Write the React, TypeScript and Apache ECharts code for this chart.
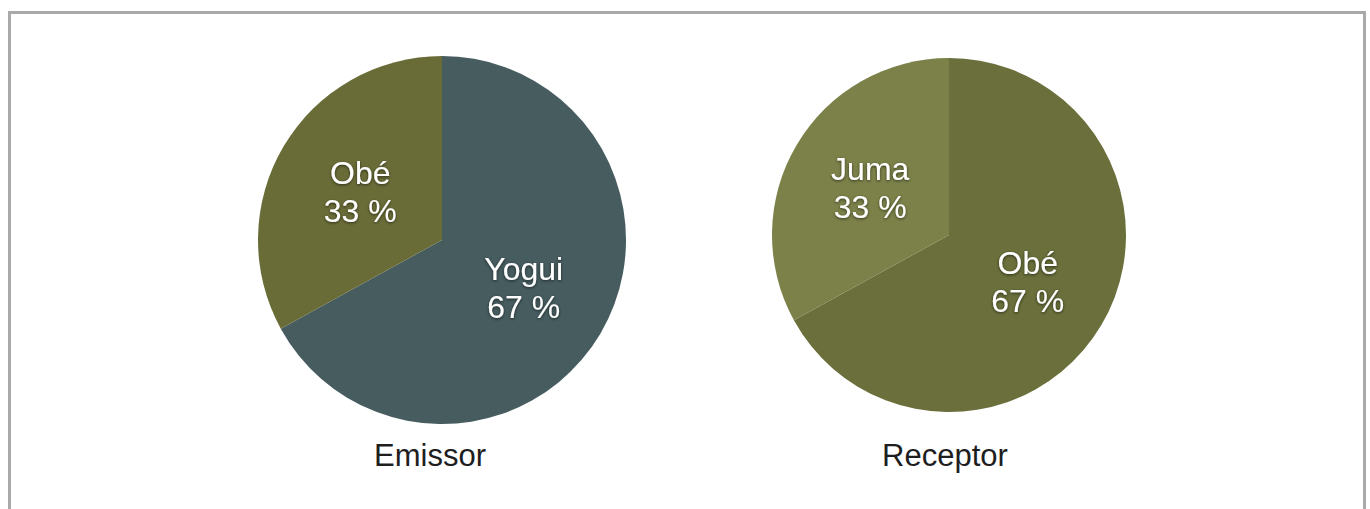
import React, { useEffect, useRef } from "react";
import * as echarts from "echarts";

const emissorNames = ["Yogui", "Obé"];
const emissorValues = [67, 33];
const emissorColors = ["#465c5f", "#6a6c38"];

const receptorNames = ["Obé", "Juma"];
const receptorValues = [67, 33];
const receptorColors = ["#6a6f3b", "#7c8149"];

const chartTitles = ["Emissor", "Receptor"];

const FONT = "'Liberation Sans', Arial, Helvetica, sans-serif";

export default function App() {
  const ref = useRef<HTMLDivElement>(null);

  useEffect(() => {
    if (!ref.current) return;
    const chart = echarts.init(ref.current, undefined, { renderer: "svg" });

    const labelCfg = {
      show: true,
      position: "inside",
      formatter: "{b}\n{c} %",
      color: "#ffffff",
      fontSize: 32,
      lineHeight: 38,
      fontFamily: FONT,
      textShadowColor: "rgba(0,0,0,0.6)",
      textShadowBlur: 3,
      textShadowOffsetX: 0,
      textShadowOffsetY: 1,
    };

    const makeData = (names: string[], values: number[], colors: string[]) =>
      names.map((n, i) => ({ name: n, value: values[i], itemStyle: { color: colors[i] } }));

    chart.setOption({
      animation: false,
      backgroundColor: "#ffffff",
      graphic: [
        {
          type: "rect",
          shape: { x: 9.5, y: 12.5, width: 1355, height: 600 },
          style: { fill: "none", stroke: "#a9a9a9", lineWidth: 3 },
          silent: true,
        },
        {
          type: "text",
          x: 430,
          y: 455,
          style: {
            text: chartTitles[0],
            align: "center",
            verticalAlign: "middle",
            fontSize: 31,
            fontFamily: FONT,
            fill: "#1e1e1e",
          },
        },
        {
          type: "text",
          x: 945,
          y: 455,
          style: {
            text: chartTitles[1],
            align: "center",
            verticalAlign: "middle",
            fontSize: 31,
            fontFamily: FONT,
            fill: "#1e1e1e",
          },
        },
      ],
      series: [
        {
          type: "pie",
          center: [442, 240],
          radius: 184,
          startAngle: 90,
          clockwise: true,
          label: labelCfg,
          labelLine: { show: false },
          emphasis: { disabled: true },
          itemStyle: { borderWidth: 0 },
          data: makeData(emissorNames, emissorValues, emissorColors),
        },
        {
          type: "pie",
          center: [949, 235],
          radius: 177,
          startAngle: 90,
          clockwise: true,
          label: labelCfg,
          labelLine: { show: false },
          emphasis: { disabled: true },
          itemStyle: { borderWidth: 0 },
          data: makeData(receptorNames, receptorValues, receptorColors),
        },
      ],
    });

    return () => chart.dispose();
  }, []);

  return (
    <div
      ref={ref}
      style={{ position: "fixed", left: 0, top: 0, width: 1370, height: 509 }}
    />
  );
}
